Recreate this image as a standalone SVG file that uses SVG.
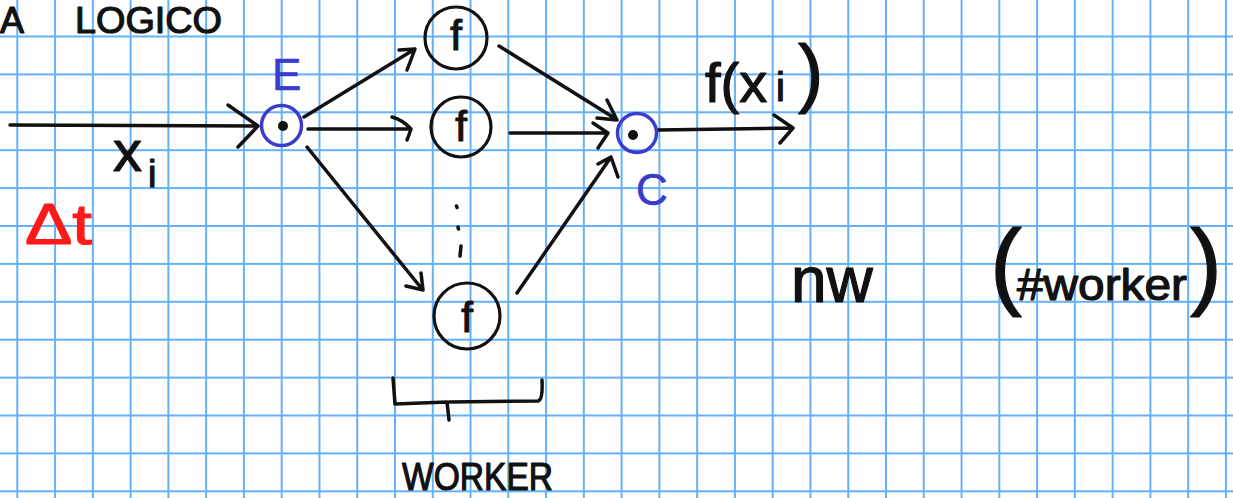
<svg xmlns="http://www.w3.org/2000/svg" width="1233" height="498" viewBox="0 0 1233 498">
  <defs>
    <!-- squared notebook paper -->
    <pattern id="grid" x="16.3" y="35.5" width="37.77" height="37.9" patternUnits="userSpaceOnUse">
      <rect x="0" y="0" width="2" height="37.9" fill="#63b1f8"/>
      <rect x="0" y="0" width="37.77" height="2" fill="#63b1f8"/>
    </pattern>
    <style>
      .ink { fill: none; stroke: #111; stroke-width: 3.5; stroke-linecap: round; stroke-linejoin: round; }
      .worker { fill: none; stroke: #111; stroke-width: 3.2; }
      .port { fill: none; stroke: #3b3bcc; stroke-width: 3.5; }
      .dot { fill: #111; }
      .hand { font-family: "Liberation Sans", "DejaVu Sans", sans-serif; fill: #111; stroke: #111; stroke-width: 1.2; stroke-linejoin: round; }
      .blue { fill: #3b3bcc; stroke: #3b3bcc; stroke-width: 0.6; }
      .red { fill: #ff1a1a; stroke: #ff1a1a; }
    </style>
  </defs>

  <rect width="1233" height="498" fill="#ffffff"/>
  <rect width="1233" height="498" fill="url(#grid)"/>

  <!-- heading -->
  <text class="hand" x="0" y="33" font-size="36">A</text>
  <text class="hand" x="75" y="33" font-size="36" textLength="147" lengthAdjust="spacingAndGlyphs">LOGICO</text>

  <!-- connectors -->
  <g id="connectors">
    <path class="ink" d="M10,125 L258,126 M228,105 L258,126 L238,147"/>
    <path class="ink" d="M304,117 L415,49 M399,50 L415,49 L407,70"/>
    <path class="ink" d="M308,129 L411,129 M392,117 Q403,120 411,129 Q409,135 407,140"/>
    <path class="ink" d="M307,147 L422,289 M406,286 L423,290 L421,273"/>
    <path class="ink" d="M499,46 L616,119 M607,100 L617,120 L597,118"/>
    <path class="ink" d="M510,133 L608,133 M593,123 L608,133 L598,148"/>
    <path class="ink" d="M517,293 L611,157 M598,164 L611,157 L618,177"/>
    <path class="ink" d="M657,130 L793,128 M774,115 L793,128 L780,143"/>
  </g>

  <!-- input label -->
  <text class="hand" x="113" y="171" font-size="58">x<tspan x="148" y="187" font-size="38">i</tspan></text>
  <text class="hand red" x="25" y="244" font-size="58" textLength="67" lengthAdjust="spacingAndGlyphs">Δt</text>

  <!-- emitter -->
  <g id="emitter">
    <circle class="port" cx="281.5" cy="125.5" r="20"/>
    <circle class="dot" cx="283" cy="126" r="5"/>
    <text class="hand blue" x="272" y="90" font-size="44">E</text>
  </g>

  <!-- workers -->
  <g id="worker-1">
    <circle class="worker" cx="456" cy="38" r="31"/>
    <text class="hand" x="456" y="50" font-size="42" text-anchor="middle">f</text>
  </g>
  <g id="worker-2">
    <circle class="worker" cx="461" cy="127" r="30"/>
    <text class="hand" x="461" y="141" font-size="42" text-anchor="middle">f</text>
  </g>
  <g id="worker-dots">
    <path class="ink" d="M456.5,206 L457,207.5 M458,227 L458.5,229 M461,246 L460,256"/>
  </g>
  <g id="worker-3">
    <circle class="worker" cx="467" cy="316" r="33"/>
    <text class="hand" x="467" y="332" font-size="42" text-anchor="middle">f</text>
  </g>

  <!-- collector -->
  <g id="collector">
    <circle class="port" cx="637" cy="133" r="19.5"/>
    <circle class="dot" cx="633" cy="135" r="5"/>
    <text class="hand blue" x="636" y="205" font-size="44">C</text>
  </g>

  <!-- output label -->
  <text class="hand" x="705" y="102" font-size="56">f(x<tspan x="776" y="101" font-size="40">i</tspan><tspan x="798" y="98" font-size="76">)</tspan></text>

  <!-- brace grouping the workers -->
  <g id="worker-brace">
    <path class="ink" d="M393,378 L395,404 L447,402 L449,420 M449,402 L538,401 Q543,400 542,380"/>
    <text class="hand" x="402" y="490" font-size="39" textLength="151" lengthAdjust="spacingAndGlyphs">WORKER</text>
  </g>

  <!-- parallelism degree -->
  <text class="hand" x="791" y="302" font-size="64">nw</text>
  <text class="hand" x="990" y="297" font-size="96">(<tspan x="1017" y="300" font-size="44" textLength="170" lengthAdjust="spacingAndGlyphs">#worker</tspan><tspan x="1190" y="297" font-size="96">)</tspan></text>
</svg>
